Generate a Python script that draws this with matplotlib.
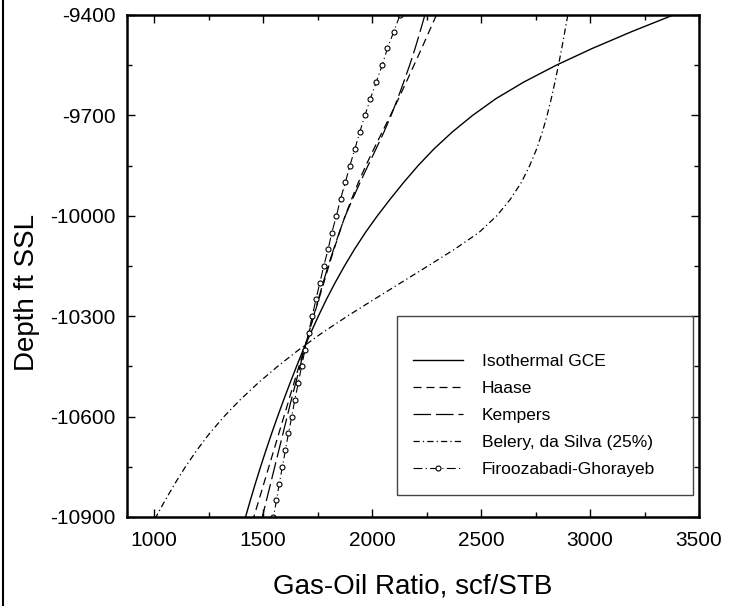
import matplotlib
matplotlib.use("Agg")
import matplotlib.pyplot as plt
from matplotlib.lines import Line2D
from matplotlib.patches import Rectangle
from matplotlib.ticker import FixedLocator

plt.rcParams['font.family'] = ['Liberation Sans', 'DejaVu Sans']
plt.rcParams['axes.unicode_minus'] = False

# depth grid (ft SSL), 50 ft steps
depth = [-9400, -9450, -9500, -9550, -9600, -9650, -9700, -9750, -9800, -9850,
         -9900, -9950, -10000, -10050, -10100, -10150, -10200, -10250, -10300, -10350,
         -10400, -10450, -10500, -10550, -10600, -10650, -10700, -10750, -10800, -10850,
         -10900]

# gas-oil ratio, scf/STB
gor_isothermal = [3382, 3190, 3010, 2845, 2697, 2568, 2461, 2367, 2284, 2211,
                  2145, 2083, 2024, 1969, 1919, 1873, 1830, 1790, 1753, 1718,
                  1684, 1653, 1623, 1594, 1566, 1539, 1513, 1488, 1464, 1441,
                  1419]
gor_haase = [2295, 2261, 2227, 2192, 2157, 2121, 2084, 2046, 2008, 1971,
             1937, 1906, 1876, 1850, 1825, 1801, 1778, 1755, 1732, 1709,
             1687, 1664, 1641, 1618, 1595, 1572, 1549, 1526, 1503, 1480,
             1457]
gor_kempers = [2242, 2220, 2197, 2172, 2145, 2117, 2087, 2054, 2018, 1981,
               1945, 1910, 1877, 1849, 1823, 1798, 1775, 1753, 1731, 1710,
               1689, 1669, 1649, 1629, 1610, 1591, 1572, 1553, 1534, 1515,
               1496]
gor_belery = [2898, 2884, 2870, 2855, 2839, 2822, 2803, 2781, 2755, 2723,
              2685, 2635, 2572, 2490, 2378, 2256, 2132, 2008, 1886, 1770,
              1664, 1566, 1476, 1394, 1320, 1254, 1196, 1143, 1095, 1050,
              1008]
gor_firoozabadi = [2128, 2099, 2070, 2046, 2019, 1992, 1967, 1943, 1921, 1898,
                   1877, 1855, 1836, 1815, 1798, 1778, 1760, 1742, 1725, 1708,
                   1692, 1676, 1661, 1645, 1631, 1616, 1602, 1588, 1574, 1561,
                   1547]

labels = ["Isothermal GCE", "Haase", "Kempers", "Belery, da Silva (25%)", "Firoozabadi-Ghorayeb"]
x_ticks = [1000, 1500, 2000, 2500, 3000, 3500]
y_ticks = [-9400, -9700, -10000, -10300, -10600, -10900]

W, H = 744, 606
fig = plt.figure(figsize=(W / 100, H / 100), dpi=100)
ax = fig.add_axes([127 / W, (H - 517) / H, 572 / W, 502 / H])

h1, = ax.plot(gor_isothermal, depth, color='black', lw=1.0, ls='-')
h2, = ax.plot(gor_haase, depth, color='black', lw=0.9, ls=(0, (6.4, 4)))
h3, = ax.plot(gor_kempers, depth, color='black', lw=0.9, ls=(0, (14, 4)))
h4, = ax.plot(gor_belery, depth, color='black', lw=0.9, ls=(0, (5, 2.5, 1, 2.5)))
h5, = ax.plot(gor_firoozabadi, depth, color='black', lw=0.8, ls=(0, (8, 3, 1, 3)),
              marker='o', ms=3.6, mfc='white', mec='black', mew=0.8)

ax.set_xlim(875, 3500)
ax.set_ylim(-10900, -9400)
ax.set_xticks(x_ticks)
ax.set_yticks(y_ticks)
ax.xaxis.set_minor_locator(FixedLocator([t + 250 for t in x_ticks[:-1]]))
ax.yaxis.set_minor_locator(FixedLocator([t - 150 for t in y_ticks[:-1]]))
ax.tick_params(which='both', direction='in', top=True, right=True, width=1.0,
               labelsize=15)
ax.tick_params(which='major', length=6)
ax.tick_params(which='minor', length=3.6)
ax.tick_params(axis='x', pad=10)
ax.tick_params(axis='y', pad=8)
for s in ax.spines.values():
    s.set_linewidth(1.8)

ax.set_xlabel("Gas-Oil Ratio, scf/STB", fontsize=20)
ax.set_ylabel("Depth ft SSL", fontsize=20)
ax.xaxis.set_label_coords(0.5, -0.113)
ax.yaxis.set_label_coords(-0.152, 0.448)

# legend box drawn separately, entries placed inside it
ax.add_patch(Rectangle((0.472, 0.044), 0.5175, 0.356, transform=ax.transAxes,
                       fill=False, edgecolor='#444444', lw=1.0, zorder=5))
leg = ax.legend([h1, h2, h3, h4, h5], labels, loc='upper left',
                bbox_to_anchor=(0.5, 0.325), frameon=False, fontsize=12.5,
                borderpad=0, borderaxespad=0, handlelength=2.87,
                handletextpad=1.09, labelspacing=0.68)

fig.add_artist(Line2D([2.5 / W, 2.5 / W], [0, 1], transform=fig.transFigure,
                      color='black', lw=1.5))

fig.savefig("out.png", dpi=100)
